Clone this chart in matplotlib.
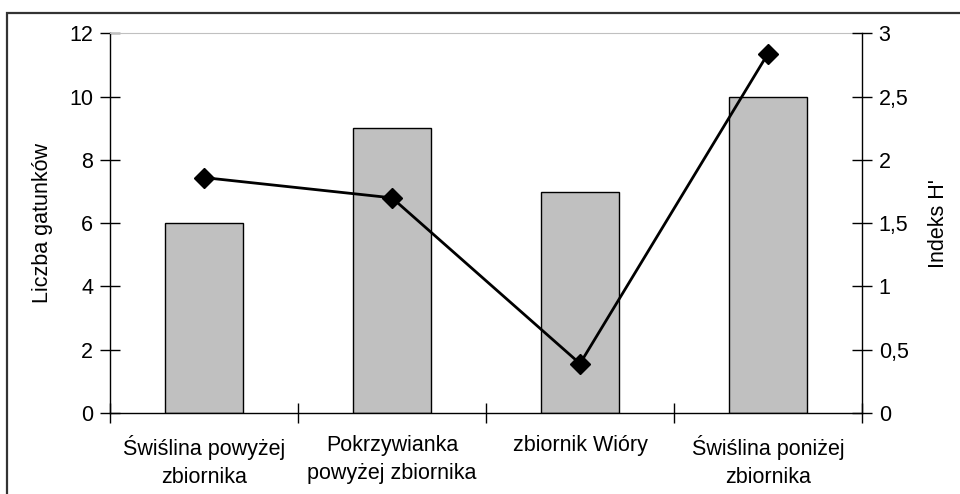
import matplotlib.pyplot as plt
from matplotlib.patches import Rectangle
from matplotlib.ticker import FuncFormatter

plt.rcParams['font.family'] = ['Liberation Sans', 'DejaVu Sans']
plt.rcParams['font.size'] = 15.5

# sampling sites, species counts and Shannon index H'
sites = ['Świślina powyżej\nzbiornika', 'Pokrzywianka\npowyżej zbiornika',
         'zbiornik Wióry', 'Świślina poniżej\nzbiornika']
species_count = [6, 9, 7, 10]
shannon_h = [1.86, 1.70, 0.39, 2.84]

fig = plt.figure(figsize=(9.6, 4.94), dpi=100)
ax = fig.add_axes([110/960, 1 - 413/494, (862-110)/960, (413-33.3)/494])

x = range(len(sites))
ax.bar(x, species_count, width=0.41, color='#c0c0c0', edgecolor='black',
       linewidth=1, zorder=2)
ax.set_xlim(-0.5, len(sites) - 0.5)
ax.set_ylim(0, 12)
ax.set_yticks(range(0, 13, 2))
ax.set_ylabel('Liczba gatunków', labelpad=12)

# category labels at centres, tick marks on the boundaries
ax.set_xticks(list(x))
ax.set_xticklabels(sites, linespacing=1.45)
ax.set_xticks([i - 0.5 for i in range(len(sites) + 1)], minor=True)
ax.tick_params(axis='x', which='major', length=0, pad=16)
ax.tick_params(axis='x', which='minor', length=14, direction='inout', width=1)
ax.tick_params(axis='y', length=14, direction='inout', width=1, pad=5)

for side in ['left', 'bottom']:
    ax.spines[side].set_linewidth(1)
ax.spines['top'].set_color('#c0c0c0')
ax.spines['right'].set_visible(False)

ax2 = ax.twinx()
ax2.plot(x, shannon_h, color='black', linewidth=2, marker='D',
         markersize=10, zorder=3)
ax2.set_ylim(0, 3)
ax2.set_yticks([0, 0.5, 1, 1.5, 2, 2.5, 3])
ax2.yaxis.set_major_formatter(
    FuncFormatter(lambda v, p: ('%g' % v).replace('.', ',')))
ax2.tick_params(axis='y', length=14, direction='inout', width=1, pad=5)
ax2.set_ylabel("Indeks H'", labelpad=14)
ax2.spines['right'].set_linewidth(1)
ax2.spines['top'].set_visible(False)
ax2.spines['left'].set_visible(False)
ax2.spines['bottom'].set_visible(False)

# chart area frame, running off the right and bottom edges
fig.patches.append(Rectangle((7/960, -0.2), 1.2, 1.2 - 13/494,
                             transform=fig.transFigure, fill=False,
                             edgecolor='#333333', linewidth=1.6))

fig.savefig('out.png', dpi=100)
